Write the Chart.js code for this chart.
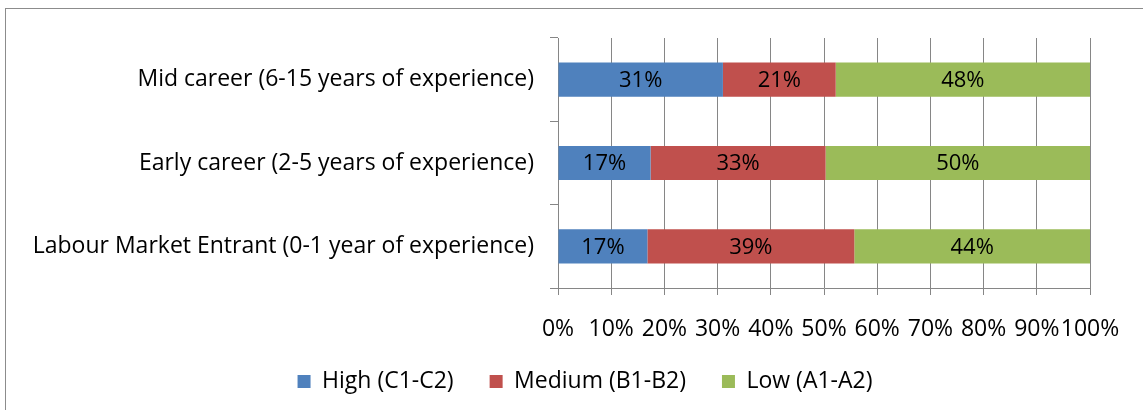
<!DOCTYPE html>
<html>
<head>
<meta charset="utf-8">
<script src="https://cdn.jsdelivr.net/npm/chart.js@4"></script>
<style>
  html, body { margin: 0; padding: 0; background: #fff; overflow: hidden; }
  #wrap { position: relative; width: 1143px; height: 410px; }
  #frame { position: absolute; left: 5px; top: 8px; width: 1200px; height: 500px; border: 1px solid #8c8c8c; }
  canvas { position: absolute; left: 0; top: 0; }
</style>
</head>
<body>
<div id="wrap">
  <div id="frame"></div>
  <canvas id="chart" width="1143" height="410"></canvas>
</div>
<script>
const categories = [
  "Mid career (6-15 years of experience)",
  "Early career (2-5 years of experience)",
  "Labour Market Entrant (0-1 year of experience)"
];
const seriesNames = ["High (C1-C2)", "Medium (B1-B2)", "Low (A1-A2)"];
const highValues = [31.0, 17.4, 16.8];
const mediumValues = [21.2, 32.9, 38.9];
const lowValues = [47.8, 49.7, 44.3];
const xTicks = [0, 10, 20, 30, 40, 50, 60, 70, 80, 90, 100];

const colors = ["#4F81BD", "#C0504D", "#9BBB59"];
const fontFamily = "'Open Sans', 'Noto Sans', sans-serif";
const fontSize = 23;
const gridColor = "#868686";

// writes the rounded percentage in the middle of each bar segment
const barLabels = {
  id: "barLabels",
  afterDatasetsDraw(chart) {
    const ctx = chart.ctx;
    ctx.save();
    ctx.font = "22px " + fontFamily;
    ctx.fillStyle = "#000";
    ctx.textAlign = "center";
    ctx.textBaseline = "middle";
    chart.data.datasets.forEach((ds, i) => {
      chart.getDatasetMeta(i).data.forEach((bar, j) => {
        const p = bar.getProps(["x", "y", "base"], true);
        ctx.fillText(Math.round(ds.data[j]) + "%", (p.x + p.base) / 2, p.y + 1);
      });
    });
    ctx.restore();
  }
};

// the legend sits a bit right of centre and closer to the axis in the original
const legendShift = {
  id: "legendShift",
  afterLayout(chart) {
    const lg = chart.legend;
    lg.left += 40;
    lg.right += 40;
    lg.top -= 18;
    lg.bottom -= 18;
  }
};

new Chart(document.getElementById("chart"), {
  type: "bar",
  data: {
    labels: categories,
    datasets: [
      { label: seriesNames[0], data: highValues, backgroundColor: colors[0] },
      { label: seriesNames[1], data: mediumValues, backgroundColor: colors[1] },
      { label: seriesNames[2], data: lowValues, backgroundColor: colors[2] }
    ]
  },
  options: {
    indexAxis: "y",
    responsive: false,
    animation: false,
    layout: { padding: { top: 38, right: 53, left: 0, bottom: -11 } },
    datasets: { bar: { categoryPercentage: 1, barPercentage: 0.41 } },
    scales: {
      x: {
        stacked: true,
        min: 0,
        max: 100,
        afterBuildTicks(scale) { scale.ticks = xTicks.map(v => ({ value: v })); },
        afterFit(scale) { scale.height = 64; },
        grid: { color: gridColor, drawOnChartArea: true, tickLength: 7 },
        border: { color: gridColor },
        ticks: {
          autoSkip: false,
          maxRotation: 0,
          padding: 21,
          color: "#000",
          font: { family: fontFamily, size: fontSize },
          callback: v => v + "%"
        }
      },
      y: {
        stacked: true,
        afterFit(scale) { scale.width = 558; },
        grid: { offset: true, drawOnChartArea: false, color: gridColor, tickLength: 8 },
        border: { color: gridColor },
        ticks: {
          padding: 16,
          color: "#000",
          font: { family: fontFamily, size: fontSize }
        }
      }
    },
    plugins: {
      legend: {
        position: "bottom",
        labels: {
          boxWidth: 13,
          boxHeight: 13,
          padding: 36,
          color: "#000",
          font: { family: fontFamily, size: fontSize }
        }
      },
      tooltip: { enabled: false }
    }
  },
  plugins: [barLabels, legendShift]
});
</script>
</body>
</html>
